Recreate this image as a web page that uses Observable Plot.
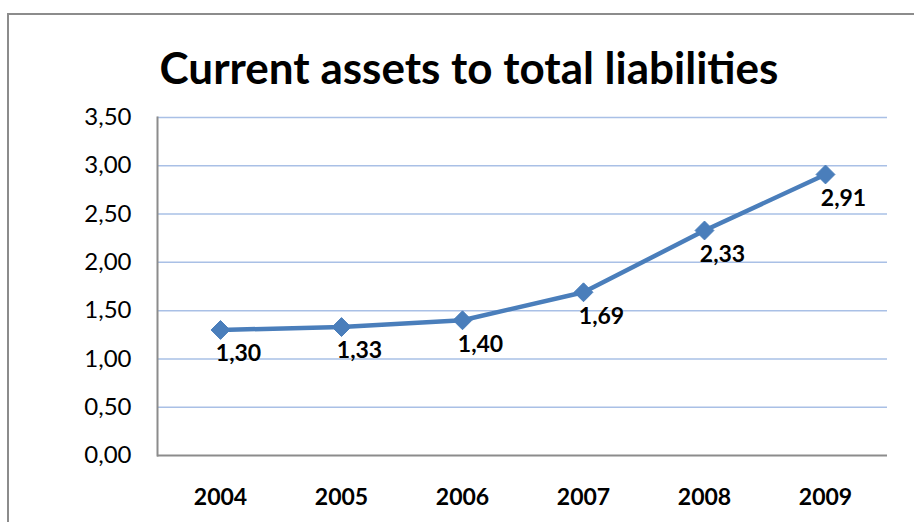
<!DOCTYPE html>
<html>
<head>
<meta charset="utf-8">
<script src="https://cdn.jsdelivr.net/npm/d3@7"></script>
<script src="https://cdn.jsdelivr.net/npm/@observablehq/plot@0.6"></script>
<style>
  html, body { margin: 0; padding: 0; background: #fff; }
  body { width: 914px; height: 522px; overflow: hidden; position: relative; font-family: Lato, "Open Sans", sans-serif; }
  #frame { position: absolute; left: 7px; top: 13px; width: 1000px; height: 1000px; border-left: 2px solid #8c8c8c; border-top: 2px solid #8c8c8c; }
  #title { position: absolute; left: 0; top: 0; width: 914px; height: 100px; }
  #title div { position: absolute; left: 0; width: 938px; top: 45px; text-align: center; font-weight: 700; font-size: 44px; color: #000; line-height: 1; }
  #chart { position: absolute; left: 0; top: 100px; }
</style>
</head>
<body>
<div id="frame"></div>
<div id="title"><div>Current assets to total liabilities</div></div>
<div id="chart"></div>
<script>
const years = ["2004", "2005", "2006", "2007", "2008", "2009"];
const ratios = [1.30, 1.33, 1.40, 1.69, 2.33, 2.91];
const yTicks = [0, 0.5, 1, 1.5, 2, 2.5, 3, 3.5];
const yTickLabels = ["0,00", "0,50", "1,00", "1,50", "2,00", "2,50", "3,00", "3,50"];
const valueLabels = ["1,30", "1,33", "1,40", "1,69", "2,33", "2,91"];

const rows = years.map((y, i) => ({year: y, value: ratios[i], label: valueLabels[i]}));
const gridTicks = yTicks.filter(t => t > 0);

const plot = Plot.plot({
  width: 914,
  height: 422,
  marginLeft: 157,
  marginRight: 27,
  marginTop: 17,
  marginBottom: 67,
  style: {fontFamily: "Lato, 'Open Sans', sans-serif", background: "transparent"},
  x: {type: "point", domain: years, padding: 0.5, label: null},
  y: {domain: [0, 3.5], label: null},
  marks: [
    Plot.ruleY(gridTicks, {stroke: "#a9c0e6", strokeWidth: 1.5}),
    Plot.ruleY([0], {stroke: "#8c8c8c", strokeWidth: 2}),
    Plot.frame({anchor: "left", stroke: "#8c8c8c", strokeWidth: 2}),
    Plot.axisY({ticks: yTicks, tickFormat: (d) => yTickLabels[yTicks.indexOf(d)], tickSize: 0, tickPadding: 26, fontSize: 24, fill: "#000", label: null}),
    Plot.axisX({tickSize: 0, tickPadding: 33, fontSize: 23, fontWeight: 700, fill: "#000", label: null}),
    Plot.line(rows, {x: "year", y: "value", stroke: "#4a7ebb", strokeWidth: 4.5}),
    Plot.dot(rows, {x: "year", y: "value", symbol: "diamond2", r: 8.5, fill: "#4a7ebb", stroke: "#4a7ebb", strokeWidth: 1}),
    Plot.text(rows, {x: "year", y: "value", text: "label", dx: 18, dy: 24, fontSize: 23, fontWeight: 700, fill: "#000"})
  ]
});
document.getElementById("chart").appendChild(plot);
</script>
</body>
</html>
